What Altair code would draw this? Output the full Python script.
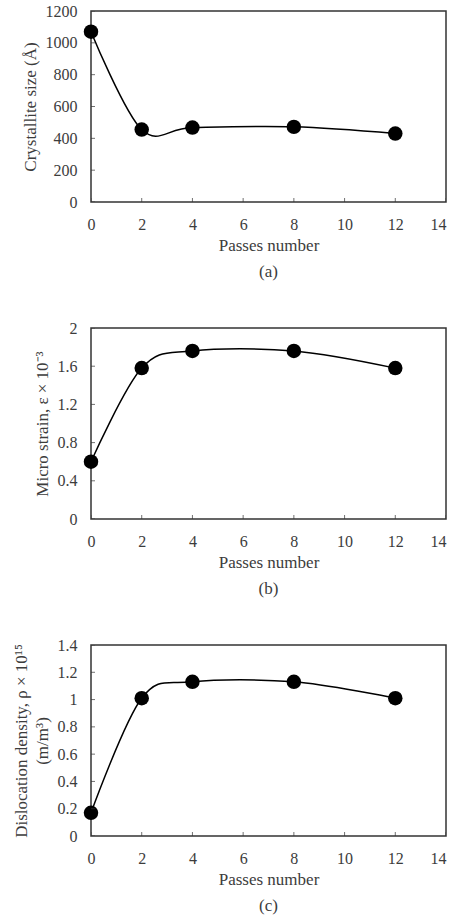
import altair as alt
import pandas as pd

passes = [0, 2, 4, 8, 12]
crystallite = [1070, 455, 468, 472, 430]
strain = [0.60, 1.58, 1.76, 1.76, 1.58]
dislocation = [0.17, 1.01, 1.13, 1.13, 1.01]

x_ticks = [0, 2, 4, 6, 8, 10, 12, 14]
y_ticks_a = [0, 200, 400, 600, 800, 1000, 1200]
y_ticks_b = [0, 0.4, 0.8, 1.2, 1.6, 2.0]
y_ticks_c = [0, 0.2, 0.4, 0.6, 0.8, 1.0, 1.2, 1.4]

FONT = "Liberation Serif"
TEXT = "#3c3c3c"
LINE = "#333333"
H = 191
W = 355


def panel(values, y_ticks, y_title, caption):
    df = pd.DataFrame({"passes": passes, "value": values})
    xs = alt.Scale(domain=[x_ticks[0], x_ticks[-1]], nice=False, zero=False)
    ys = alt.Scale(domain=[y_ticks[0], y_ticks[-1]], nice=False, zero=False)
    xaxis = alt.Axis(values=x_ticks, title="Passes number", grid=False, domain=False,
                     ticks=False, labelPadding=14, titlePadding=5, format="~f",
                     labelFlush=False, labelOverlap=False,
                     labelAlign={"condition": {"test": "datum.value >= 14", "value": "right"},
                                 "value": "center"})
    yaxis = alt.Axis(values=y_ticks, title=y_title, grid=False, domain=False,
                     ticks=False, labelPadding=14, titlePadding=6, format="~f",
                     labelFlush=False, labelOverlap=False, titleLineHeight=21)
    base = alt.Chart(df)
    line = base.mark_line(interpolate="cardinal", tension=0, color="black", strokeWidth=1.5).encode(
        x=alt.X("passes:Q", scale=xs, axis=xaxis),
        y=alt.Y("value:Q", scale=ys, axis=yaxis),
    )
    pts = base.mark_circle(size=210, color="black", opacity=1).encode(
        x=alt.X("passes:Q", scale=xs, axis=xaxis),
        y=alt.Y("value:Q", scale=ys, axis=yaxis),
    )
    xt = alt.Chart(pd.DataFrame({"passes": x_ticks})).mark_tick(
        clip=True, size=8, thickness=1, color=LINE, orient="vertical"
    ).encode(x=alt.X("passes:Q", scale=xs, axis=xaxis), y=alt.value(H))
    yt = alt.Chart(pd.DataFrame({"value": y_ticks})).mark_tick(
        clip=True, size=8, thickness=1, color=LINE, orient="horizontal"
    ).encode(y=alt.Y("value:Q", scale=ys, axis=yaxis), x=alt.value(0))
    return alt.layer(line, pts, xt, yt).properties(
        width=W,
        height=H,
        view=alt.ViewConfig(stroke=LINE, strokeWidth=1.5),
        title=alt.TitleParams(caption, orient="bottom", anchor="middle", font=FONT,
                              fontSize=17, fontWeight="normal", color=TEXT, offset=11),
    )


a = panel(crystallite, y_ticks_a, "Crystallite size (Å)", "(a)")
b = panel(strain, y_ticks_b, "Micro strain, ε × 10⁻³", "(b)")
c = panel(dislocation, y_ticks_c, ["Dislocation density, ρ × 10¹⁵", "(m/m³)"], "(c)")

chart = alt.vconcat(a, b, c, spacing=38).properties(
    padding={"left": 11, "top": 2, "right": 0, "bottom": 0}
).configure(
    background="white"
).configure_view(
    stroke=LINE, strokeWidth=1.5
).configure_axis(
    labelFont=FONT, titleFont=FONT, labelFontSize=16, titleFontSize=17,
    labelColor=TEXT, titleColor=TEXT, titleFontWeight="normal",
)

chart.save("out.html", embed_options={"renderer": "svg", "actions": False})
